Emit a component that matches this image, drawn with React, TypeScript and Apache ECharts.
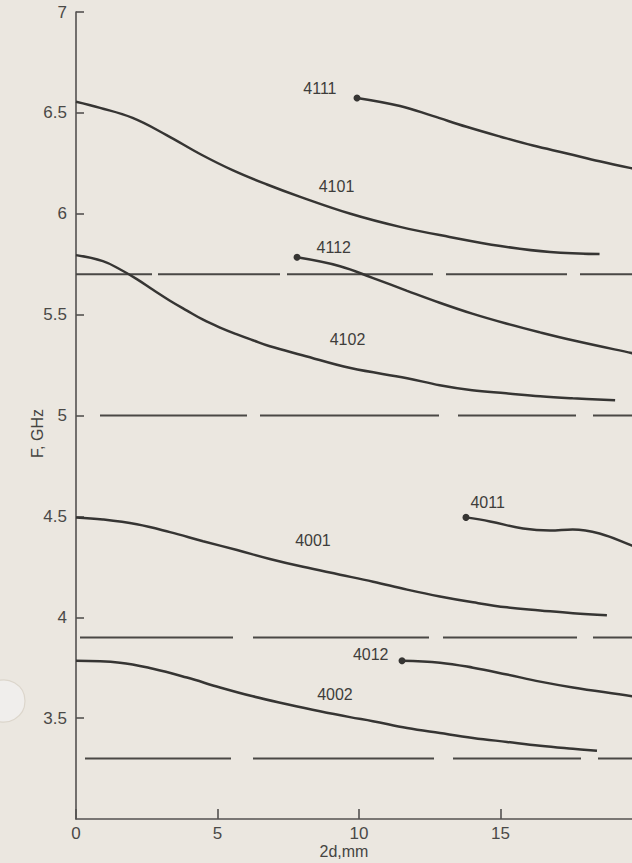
import React, { useEffect, useRef } from "react";
import * as echarts from "echarts";

// ---- data (2d in mm, F in GHz) ----
const xTickValues = [0, 5, 10, 15, 20];

const curve4111: [number, number][] = [
  [9.93, 6.574], [11.45, 6.534], [12.6, 6.485], [13.8, 6.431], [15.0, 6.382],
  [16.15, 6.338], [17.35, 6.299], [18.5, 6.26], [19.65, 6.225], [20, 6.216],
];
const curve4101: [number, number][] = [
  [0, 6.555], [0.85, 6.525], [2.0, 6.475], [3.2, 6.39], [4.4, 6.295],
  [5.55, 6.215], [6.75, 6.145], [7.9, 6.085], [9.7, 6.0], [11.45, 5.935],
  [13.2, 5.885], [15.0, 5.84], [16.75, 5.81], [18.5, 5.8],
];
const curve4112: [number, number][] = [
  [7.81, 5.784], [9.33, 5.74], [10.5, 5.681], [11.7, 5.618], [12.85, 5.559],
  [14.0, 5.505], [15.2, 5.456], [16.4, 5.412], [17.55, 5.373], [19.65, 5.309], [20, 5.299],
];
const curve4102: [number, number][] = [
  [0, 5.795], [0.95, 5.765], [1.55, 5.725], [2.15, 5.676], [2.72, 5.623],
  [3.32, 5.569], [3.92, 5.52], [4.49, 5.475], [5.09, 5.436], [5.69, 5.402],
  [6.25, 5.373], [6.85, 5.343], [8.0, 5.299], [9.7, 5.235], [11.7, 5.185],
  [12.85, 5.15], [14.0, 5.125], [15.2, 5.11], [16.4, 5.095], [17.55, 5.085], [19.05, 5.075],
];
const curve4011: [number, number][] = [
  [13.78, 4.495], [14.63, 4.475], [15.8, 4.44], [16.75, 4.43], [17.55, 4.435],
  [18.5, 4.415], [19.65, 4.355], [20, 4.335],
];
const curve4001: [number, number][] = [
  [0, 4.495], [0.95, 4.485], [2.15, 4.461], [3.32, 4.422], [4.49, 4.377],
  [5.69, 4.333], [6.85, 4.289], [8.02, 4.25], [9.33, 4.211], [10.5, 4.176],
  [11.7, 4.137], [12.86, 4.103], [14.03, 4.074], [15.23, 4.049], [16.4, 4.034],
  [17.56, 4.02], [18.76, 4.01],
];
const curve4012: [number, number][] = [
  [11.52, 3.784], [12.86, 3.775], [14.03, 3.75], [15.23, 3.716], [16.4, 3.681],
  [17.56, 3.652], [19.65, 3.608], [20, 3.598],
];
const curve4002: [number, number][] = [
  [0, 3.784], [1.55, 3.775], [2.72, 3.745], [3.92, 3.701], [5.09, 3.652],
  [6.25, 3.608], [7.46, 3.569], [8.62, 3.534], [9.68, 3.505], [10.49, 3.485],
  [11.7, 3.451], [12.86, 3.426], [14.03, 3.402], [15.23, 3.382], [16.4, 3.363],
  [17.56, 3.348], [18.41, 3.338],
];

// horizontal broken reference lines (GHz)
const cutoffLevels = [5.7, 5.0, 3.9, 3.3];

// ---- styles ----
const INK = "#363533";
const AXIS = "#545250";
const FONT = "Liberation Sans";

// dash patterns (px) for the broken lines, in the order of cutoffLevels
const dashPatterns = [
  [76, 6, 122, 7, 146, 13, 121, 13, 200, 10],
  [0, 24, 147, 13, 179, 19, 118, 17, 200, 10],
  [0, 4, 153, 20, 176, 14, 134, 16, 200, 10],
  [0, 9, 146, 22, 181, 19, 128, 17, 200, 10],
];

type CurveDef = {
  name: string;
  data: [number, number][];
  dot: boolean;
  labelIndex: number;
  labelPos: string;
  labelOffset: [number, number];
};

const curves: CurveDef[] = [
  { name: "4111", data: curve4111, dot: true, labelIndex: 0, labelPos: "left", labelOffset: [-12, -9] },
  { name: "4101", data: curve4101, dot: false, labelIndex: 8, labelPos: "top", labelOffset: [-14, -14] },
  { name: "4112", data: curve4112, dot: true, labelIndex: 0, labelPos: "right", labelOffset: [11, -10] },
  { name: "4102", data: curve4102, dot: false, labelIndex: 13, labelPos: "top", labelOffset: [-3, -15] },
  { name: "4011", data: curve4011, dot: true, labelIndex: 0, labelPos: "right", labelOffset: [-4, -15] },
  { name: "4001", data: curve4001, dot: false, labelIndex: 7, labelPos: "top", labelOffset: [10, -13] },
  { name: "4012", data: curve4012, dot: true, labelIndex: 0, labelPos: "left", labelOffset: [-5, -6] },
  { name: "4002", data: curve4002, dot: false, labelIndex: 8, labelPos: "top", labelOffset: [-15, -9] },
];

export default function App() {
  const ref = useRef<HTMLDivElement>(null);

  useEffect(() => {
    if (!ref.current) return;
    const chart = echarts.init(ref.current, null, { renderer: "svg" });

    const curveSeries = curves.map((c) => ({
      type: "line",
      name: c.name,
      smooth: 0.4,
      showSymbol: true,
      showAllSymbol: true,
      symbol: "none",
      z: 3,
      lineStyle: { color: INK, width: 2.5 },
      itemStyle: { color: INK },
      data: c.data.map((p, i) => {
        const item: any = { value: p };
        if (c.dot && i === 0) {
          item.symbol = "circle";
          item.symbolSize = 7;
        }
        if (i === c.labelIndex) {
          if (!item.symbol) {
            item.symbol = "circle";
            item.symbolSize = 1;
          }
          item.label = {
            show: true,
            position: c.labelPos,
            offset: c.labelOffset,
            formatter: c.name,
            color: "#3e3d3b",
            fontFamily: FONT,
            fontSize: 16,
          };
        }
        return item;
      }),
    }));

    const cutoffSeries = cutoffLevels.map((lvl, k) => ({
      type: "line",
      name: "cutoff" + k,
      symbol: "none",
      silent: true,
      z: 2,
      lineStyle: { color: "#4a4845", width: 2, type: dashPatterns[k], dashOffset: 0 },
      data: [[xTickValues[0], lvl], [xTickValues[xTickValues.length - 1], lvl]],
    }));

    chart.setOption({
      animation: false,
      backgroundColor: "#ebe7e0",
      grid: { left: 76, right: 38, top: 12, bottom: 44, containLabel: false, outerBoundsMode: "none" },
      xAxis: {
        type: "value",
        min: 0,
        max: 20,
        interval: 5,
        name: "2d,mm",
        nameLocation: "middle",
        nameGap: 24,
        nameMoveOverlap: false,
        nameTextStyle: { color: "#454442", fontFamily: FONT, fontSize: 16, padding: [0, 30, 0, 0] },
        axisLine: { lineStyle: { color: AXIS, width: 1.6 } },
        axisTick: { inside: true, length: 10, lineStyle: { color: AXIS, width: 1.6 } },
        axisLabel: { color: "#4a4947", fontFamily: FONT, fontSize: 17, margin: 6 },
        splitLine: { show: false },
      },
      yAxis: {
        type: "value",
        min: 3,
        max: 7,
        interval: 0.5,
        name: "F, GHz",
        nameLocation: "middle",
        nameGap: 31,
        nameMoveOverlap: false,
        nameTextStyle: { color: "#454442", fontFamily: FONT, fontSize: 16, padding: [0, 36, 0, 0] },
        axisLine: { show: true, lineStyle: { color: AXIS, width: 1.6 } },
        axisTick: { show: true, inside: true, length: 8, lineStyle: { color: AXIS, width: 1.6 } },
        axisLabel: { color: "#4a4947", fontFamily: FONT, fontSize: 17, margin: 9, showMinLabel: false },
        splitLine: { show: false },
      },
      graphic: [
        {
          type: "circle",
          shape: { cx: 4, cy: 701, r: 21 },
          style: { fill: "#f0eeec", stroke: "#dcd6cc", lineWidth: 1.2 },
          silent: true,
        },
      ],
      series: [...cutoffSeries, ...curveSeries],
    });

    return () => chart.dispose();
  }, []);

  return (
    <div style={{ position: "absolute", left: 0, top: 0, width: 632, height: 863, overflow: "hidden", background: "#ebe7e0" }}>
      <div ref={ref} style={{ width: 680, height: 863 }} />
    </div>
  );
}
